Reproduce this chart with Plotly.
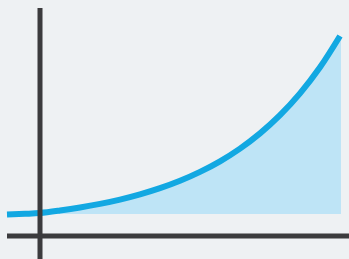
import plotly.graph_objects as go

# Curve values (x relative to vertical axis, y relative to horizontal axis)
curve_x = [-33, -15, 0, 20, 40, 60, 80, 100, 120, 140, 160, 180, 200, 220, 240, 260, 280, 300]
curve_y = [21.5, 22.2, 23, 25.5, 28.5, 32.1, 36.4, 41.6, 47.8, 55.2, 64.1, 74.7, 87.4,
           102.6, 120.8, 142.6, 168.7, 200]
fill_base = 22
fill_start = 0
fill_end = 301

fx = [x for x in curve_x if x >= fill_start]
fy = [y for x, y in zip(curve_x, curve_y) if x >= fill_start]
poly_x = fx + [fill_end, fill_end, fill_start]
poly_y = fy + [fy[-1], fill_base, fill_base]

fig = go.Figure()
fig.add_trace(go.Scatter(x=poly_x, y=poly_y, fill="toself", mode="none",
                         fillcolor="#bee4f6", hoverinfo="skip", showlegend=False))
fig.add_trace(go.Scatter(x=curve_x, y=curve_y, mode="lines",
                         line=dict(color="#12a8e2", width=6, shape="spline", smoothing=1),
                         showlegend=False))

axis_color = "#3b3b3d"
fig.add_shape(type="line", x0=0, x1=0, y0=228, y1=-30, line=dict(color=axis_color, width=5), layer="above")
fig.add_shape(type="line", x0=-33, x1=320, y0=0, y1=0, line=dict(color=axis_color, width=5), layer="above")

fig.update_layout(
    width=349, height=259,
    margin=dict(l=0, r=0, t=0, b=0),
    paper_bgcolor="#eef1f3", plot_bgcolor="#eef1f3",
    xaxis=dict(range=[-40, 309], visible=False, fixedrange=True),
    yaxis=dict(range=[-23, 236], visible=False, fixedrange=True),
)
fig.write_html("out.html", config={"displayModeBar": False},
               post_script="document.body.style.margin='0px';document.body.style.background='#eef1f3';")
